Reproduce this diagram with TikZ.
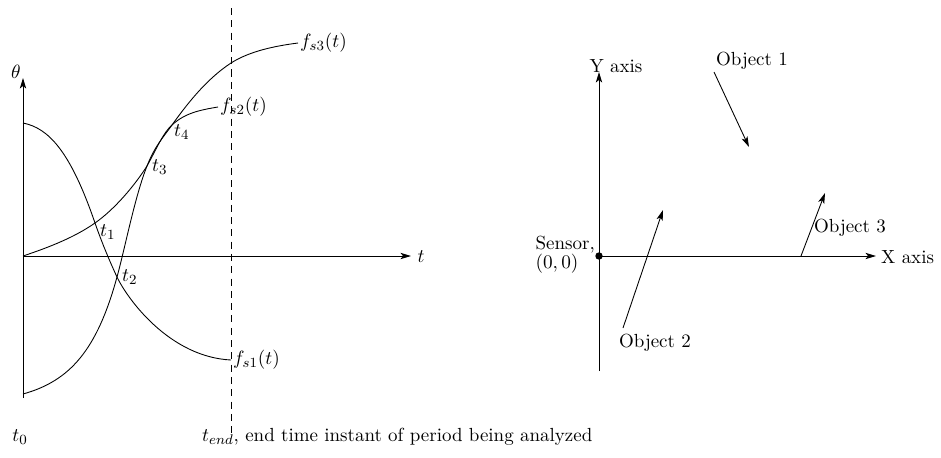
\documentclass[tikz,border=0pt]{standalone}
\usepackage{amsmath, amssymb}
\usepackage{tikz}
\usetikzlibrary{arrows.meta, positioning}

\begin{document}
\begin{tikzpicture}[x=0.02cm, y=-0.02cm, line width=0.5pt,
      every node/.style={font=\fontsize{10.8}{13}\selectfont},
      ax/.style={-{Stealth[length=6pt, width=3.6pt, inset=1.5pt]}},
      lbl/.style={anchor=west, inner sep=1pt}]
    \useasboundingbox (0,0) rectangle (941,457);

    % time plot
    \coordinate (o)     at (23,256);
    \coordinate (thtop) at (23,78);
    \coordinate (thbot) at (23,398);
    \coordinate (tend)  at (411,256);
    \coordinate (dtop)  at (231,8);
    \coordinate (dbot)  at (231,437);
    \draw[ax] (thbot) -- (thtop);
    \draw[ax] (o) -- (tend);
    \draw[dash pattern=on 4pt off 3pt] (dtop) -- (dbot);
    \node (th) at (16,72)  {$\theta$};
    \node (tt) at (421,257) {$t$};

    \coordinate (t1) at (95,223);
    \coordinate (t2) at (117,277);
    \coordinate (t3) at (147,166);
    \coordinate (t4) at (172,125);

    \draw (23,123) .. controls (48,128) and (70,150) .. (t1)
          .. controls (102,243) and (110,262) .. (t2)
          .. controls (128,300) and (170,357) .. (231,360);
    \draw (o) .. controls (50,247) and (75,237) .. (t1)
          .. controls (115,209) and (135,185) .. (t3)
          .. controls (157,148) and (163,133) .. (t4)
          .. controls (185,113) and (200,110) .. (218,107);
    \draw (23,394) .. controls (70,381) and (97,350) .. (t2)
          .. controls (125,248) and (135,196) .. (t3)
          .. controls (155,146) and (162,139) .. (t4)
          .. controls (185,107) and (205,80) .. (231,63)
          .. controls (250,51) and (275,46) .. (298,43);

    \node[lbl] (fs1) at (231,360) {$f_{s1}(t)$};
    \node[lbl] (fs2) at (218,107) {$f_{s2}(t)$};
    \node[lbl] (fs3) at (298,43)  {$f_{s3}(t)$};
    \node[lbl] (lt1) at (98,232)  {$t_1$};
    \node[lbl] (lt2) at (120,277) {$t_2$};
    \node[lbl] (lt3) at (150,167) {$t_3$};
    \node[lbl] (lt4) at (172,132) {$t_4$};
    \node (t0) at (20,437) {$t_0$};
    \node[lbl] (te) at (200,437) {$t_{end}$, end time instant of period being analyzed};

    % sensor plane
    \coordinate (s)    at (599,256);
    \coordinate (ytop) at (599,72);
    \coordinate (ybot) at (599,371);
    \coordinate (xend) at (876,256);
    \draw[ax] (ybot) -- (ytop);
    \draw[ax] (s) -- (xend);
    \fill (s) circle (2.1pt);
    \node[anchor=east, align=left, inner sep=1pt] (sen) at (597,255) {Sensor,\\[-2pt]$(0,0)$};
    \node (ylab) at (616,66)  {Y axis};
    \node[lbl] (xlab) at (879,257) {X axis};

    \coordinate (a1) at (714,72);  \coordinate (b1) at (749,147);
    \coordinate (a2) at (623,328); \coordinate (b2) at (663,210);
    \coordinate (a3) at (801,256); \coordinate (b3) at (825,193);
    \draw[ax] (a1) -- (b1);
    \draw[ax] (a2) -- (b2);
    \draw[ax] (a3) -- (b3);
    \node (ob1) at (752,61)  {Object 1};
    \node (ob2) at (655,343) {Object 2};
    \node (ob3) at (850,228) {Object 3};
  \end{tikzpicture}
\end{document}
